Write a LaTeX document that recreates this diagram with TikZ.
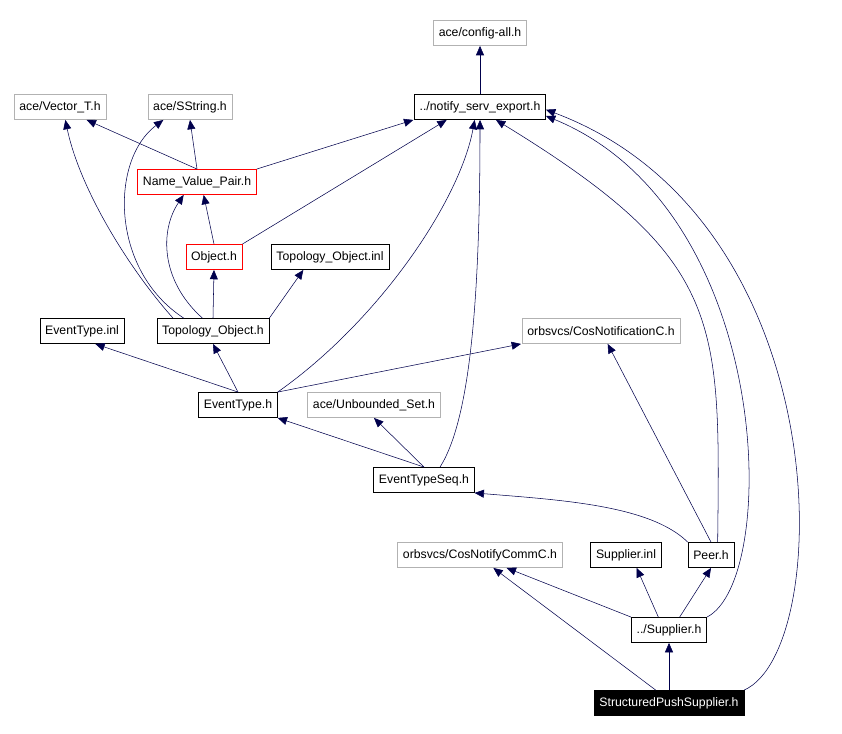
\documentclass[tikz,border=0pt]{standalone}
\usepackage{fontspec}
\setmainfont{Liberation Sans}
\usetikzlibrary{arrows.meta}
\begin{document}
\begin{tikzpicture}[
    x=0.75pt, y=-0.75pt,
    file/.style={rectangle, draw=black, fill=white, minimum height=19pt, inner xsep=4pt, font=\fontsize{9.2}{11}\selectfont},
    ext/.style={file, draw=black!30},
    warn/.style={file, draw=red},
    main/.style={file, fill=black, text=white},
    dep/.style={-{Triangle[length=7pt,width=6pt]}, draw=blue!30!black, thin}
]
    \useasboundingbox (0,0) rectangle (842,734);

    % Dateien
    \node[ext]  (config)  at (480,33)  {ace/config-all.h};
    \node[file] (export)  at (480,107) {../notify\_serv\_export.h};
    \node[ext]  (vector)  at (60,107)  {ace/Vector\_T.h};
    \node[ext]  (sstring) at (190,107) {ace/SString.h};
    \node[warn] (nvp)     at (197,182) {Name\_Value\_Pair.h};
    \node[warn] (object)  at (214,257) {Object.h};
    \node[file] (topoinl) at (330,257) {Topology\_Object.inl};
    \node[file] (evinl)   at (82,331)  {EventType.inl};
    \node[file] (topo)    at (213,331) {Topology\_Object.h};
    \node[ext]  (cosnot)  at (601,331) {orbsvcs/CosNotificationC.h};
    \node[file] (evtype)  at (238,405) {EventType.h};
    \node[ext]  (unbset)  at (374,405) {ace/Unbounded\_Set.h};
    \node[file] (evseq)   at (424,480) {EventTypeSeq.h};
    \node[ext]  (comm)    at (480,555) {orbsvcs/CosNotifyCommC.h};
    \node[file] (supinl)  at (626,555) {Supplier.inl};
    \node[file] (peer)    at (711,555) {Peer.h};
    \node[file] (supplier) at (669,630) {../Supplier.h};
    \node[main] (push)    at (669,703) {StructuredPushSupplier.h};

    % Abhaengigkeiten
    \draw[dep] (export) -- (config);
    \draw[dep] (nvp.north) -- ([xshift=20pt]vector.south);
    \draw[dep] (nvp.north) -- (sstring.south);
    \draw[dep] (nvp.north east) -- ([xshift=-50pt]export.south);
    \draw[dep] (object.north east) -- ([xshift=-25pt]export.south);
    \draw[dep] (object.north) -- ([xshift=5pt]nvp.south);
    \draw[dep] (topo.north) -- (object.south);
    \draw[dep] (topo.north east) -- ([xshift=-20pt]topoinl.south);
    \draw[dep] ([xshift=-30pt]topo.north) .. controls (130,270) and (80,190) .. ([xshift=4pt]vector.south);
    \draw[dep] ([xshift=-22pt]topo.north) .. controls (110,270) and (110,160) .. ([xshift=-20pt]sstring.south);
    \draw[dep] ([xshift=-8pt]topo.north) .. controls (160,280) and (160,230) .. ([xshift=-10pt]nvp.south);
    \draw[dep] (evtype.north) -- ([xshift=10pt]evinl.south);
    \draw[dep] (evtype.north) -- (topo.south);
    \draw[dep] (evtype.north east) .. controls (380,320) and (460,200) .. ([xshift=-4pt]export.south);
    \draw[dep] (evtype.north east) -- ([xshift=-60pt]cosnot.south);
    \draw[dep] (evseq.north) -- (evtype.south east);
    \draw[dep] (evseq.north) -- (unbset.south);
    \draw[dep] ([xshift=12pt]evseq.north) .. controls (470,420) and (480,300) .. (export.south);
    \draw[dep] (peer.north west) .. controls (650,505) and (560,500) .. (evseq.south east);
    \draw[dep] (peer.north) -- ([xshift=5pt]cosnot.south);
    \draw[dep] ([xshift=5pt]peer.north) .. controls (720,320) and (725,260) .. ([xshift=12pt]export.south);
    \draw[dep] (supplier.north west) -- ([xshift=20pt]comm.south);
    \draw[dep] ([xshift=-8pt]supplier.north) -- ([xshift=8pt]supinl.south);
    \draw[dep] ([xshift=8pt]supplier.north) -- (peer.south);
    \draw[dep] (supplier.north east) .. controls (780,580) and (775,210) .. ([yshift=3pt]export.south east);
    \draw[dep] (push.north east) .. controls (835,650) and (840,220) .. ([yshift=-2pt]export.east);
    \draw[dep] (push.north) -- (supplier.south);
    \draw[dep] ([xshift=-10pt]push.north) -- ([xshift=10pt]comm.south);
\end{tikzpicture}
\end{document}
